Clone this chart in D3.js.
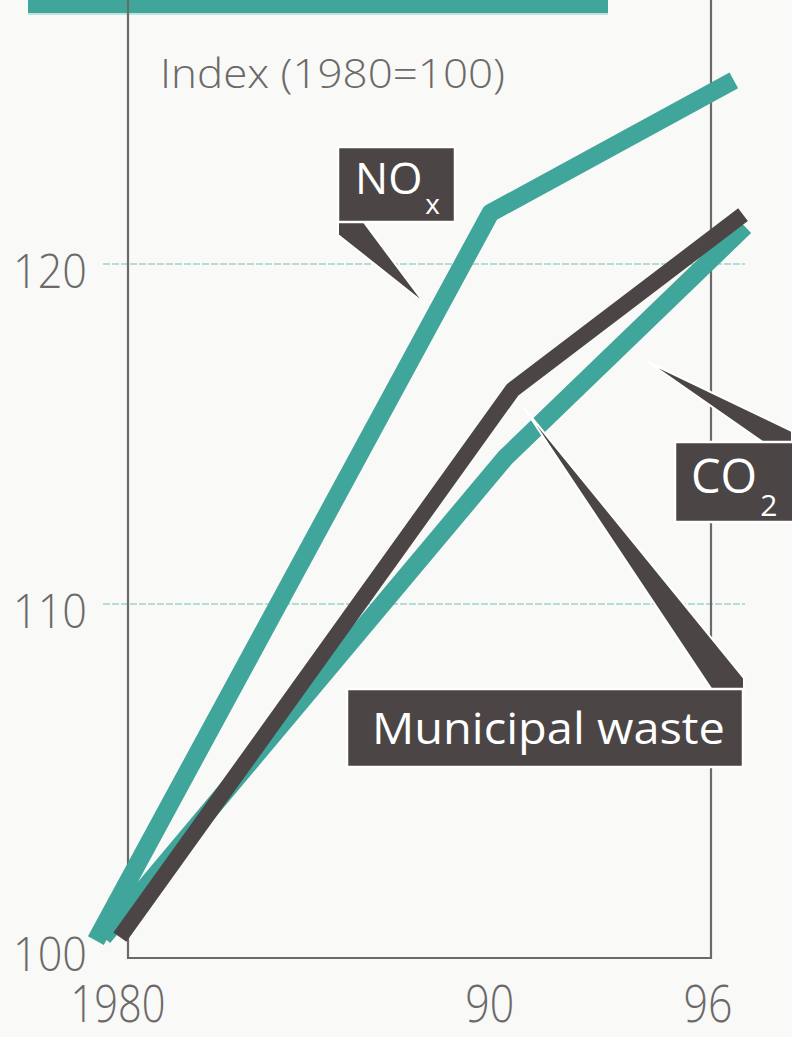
<!DOCTYPE html>
<html>
<head>
<meta charset="utf-8">
<script src="https://cdn.jsdelivr.net/npm/d3@7"></script>
<style>
  html, body { margin: 0; padding: 0; background: #f9f9f7; }
  svg { display: block; }
  text { font-family: "Open Sans", "DejaVu Sans", sans-serif; }
</style>
</head>
<body>
<svg id="chart" width="792" height="1037"></svg>
<script>
// ---- data ----
const xTickValues = [1980, 1990, 1996];
const xTickLabels = ["1980", "90", "96"];
const yTickValues = [100, 110, 120];
const gridValues = [110, 120];

const noxYears = [1979.4, 1990.1, 1996.7];
const noxValues = [100.1, 121.5, 125.4];

const co2Years = [1979.6, 1990.5, 1997.0];
const co2Values = [100.2, 114.3, 121.1];

const wasteYears = [1980.05, 1990.7, 1996.95];
const wasteValues = [100.2, 116.3, 121.45];

const unitLabel = "Index (1980=100)";

// ---- setup ----
const TEAL = "#40a59a";
const DARK = "#4b4645";
const GREY = "#6b6969";

const svg = d3.select("#chart");
const x = d3.scaleLinear().domain([1980, 1996]).range([118, 708]);
const y = d3.scaleLinear().domain([100, 120]).range([944, 264]);

// background
svg.append("rect").attr("width", 792).attr("height", 1037).attr("fill", "#f9f9f7");

// top teal bar (cropped title bar)
svg.append("rect").attr("x", 28).attr("y", 0).attr("width", 580).attr("height", 13)
  .attr("fill", TEAL);
svg.append("line").attr("x1", 28).attr("x2", 608).attr("y1", 14).attr("y2", 14)
  .attr("stroke", "#bfe3dd").attr("stroke-width", 2);

// gridlines
svg.append("g").selectAll("line").data(gridValues).join("line")
  .attr("x1", 103).attr("x2", 745)
  .attr("y1", d => y(d)).attr("y2", d => y(d))
  .attr("stroke", "#9fd2ca").attr("stroke-width", 1.6)
  .attr("stroke-dasharray", "7,2");

// frame
const frameBottom = 958;
svg.append("path")
  .attr("d", `M128,0 V${frameBottom} H711 V0`)
  .attr("fill", "none").attr("stroke", GREY).attr("stroke-width", 2.2);

// unit label
svg.append("text").attr("x", 160).attr("y", 88)
  .attr("font-size", 41).attr("font-weight", 300).attr("fill", GREY)
  .attr("textLength", 345).attr("lengthAdjust", "spacingAndGlyphs")
  .text(unitLabel);

// y tick labels
svg.append("g").selectAll("text").data(yTickValues).join("text")
  .attr("x", 87).attr("y", d => y(d) + (d === 100 ? 27 : 24))
  .attr("text-anchor", "end")
  .attr("font-size", 48).attr("font-weight", 300).attr("fill", GREY)
  .attr("textLength", 74).attr("lengthAdjust", "spacingAndGlyphs")
  .text(d => d);

// x tick labels
svg.append("g").selectAll("text").data(xTickValues).join("text")
  .attr("x", d => x(d) + (d === 1990 ? 3 : 0)).attr("y", 1022)
  .attr("text-anchor", "middle")
  .attr("font-size", 52).attr("font-weight", 300).attr("fill", GREY)
  .attr("textLength", (d, i) => xTickLabels[i].length === 4 ? 95 : 49)
  .attr("lengthAdjust", "spacingAndGlyphs")
  .text((d, i) => xTickLabels[i]);

// lines
const line = d3.line().x(d => x(d[0])).y(d => y(d[1]));
const series = [
  { years: noxYears, values: noxValues, color: TEAL, width: 18 },
  { years: co2Years, values: co2Values, color: TEAL, width: 18 },
  { years: wasteYears, values: wasteValues, color: DARK, width: 16 }
];
series.forEach(s => {
  const pts = s.years.map((yr, i) => [yr, s.values[i]]);
  svg.append("path").datum(pts)
    .attr("d", line)
    .attr("fill", "none").attr("stroke", s.color)
    .attr("stroke-width", s.width)
    .attr("stroke-linejoin", "round").attr("stroke-linecap", "butt");
});

// labels with pointer tails
function tail(points) {
  svg.append("polygon").attr("points", points.map(p => p.join(",")).join(" "))
    .attr("fill", DARK).attr("stroke", "#ffffff").attr("stroke-width", 2)
    .attr("stroke-linejoin", "miter");
}
function box(x0, y0, w, h) {
  svg.append("rect").attr("x", x0).attr("y", y0).attr("width", w).attr("height", h)
    .attr("fill", DARK).attr("stroke", "#ffffff").attr("stroke-width", 2.5);
}
function subLabel(x0, y0, main, sub, fs, subFs, dy) {
  const t = svg.append("text").attr("x", x0).attr("y", y0)
    .attr("font-size", fs).attr("fill", "#fff");
  t.append("tspan").text(main);
  t.append("tspan").attr("dx", 3).attr("dy", dy).attr("font-size", subFs).text(sub);
}

// NOx
tail([[338, 221], [363, 221], [425, 304], [338, 235]]);
box(338, 147, 117, 75);
subLabel(355, 194, "NO", "x", 44, 28, 20);

// CO2
tail([[764, 443], [792, 443], [792, 431], [648, 362]]);
box(675, 442, 120, 80);
subLabel(691, 493, "CO", "2", 47, 30, 23);

// Municipal waste
tail([[712, 690], [744, 690], [744, 678], [524, 408]]);
box(347, 689, 396, 78);
svg.append("text").attr("x", 372).attr("y", 744).attr("font-size", 44).attr("fill", "#fff")
  .attr("textLength", 353).attr("lengthAdjust", "spacingAndGlyphs").text("Municipal waste");
</script>
</body>
</html>
